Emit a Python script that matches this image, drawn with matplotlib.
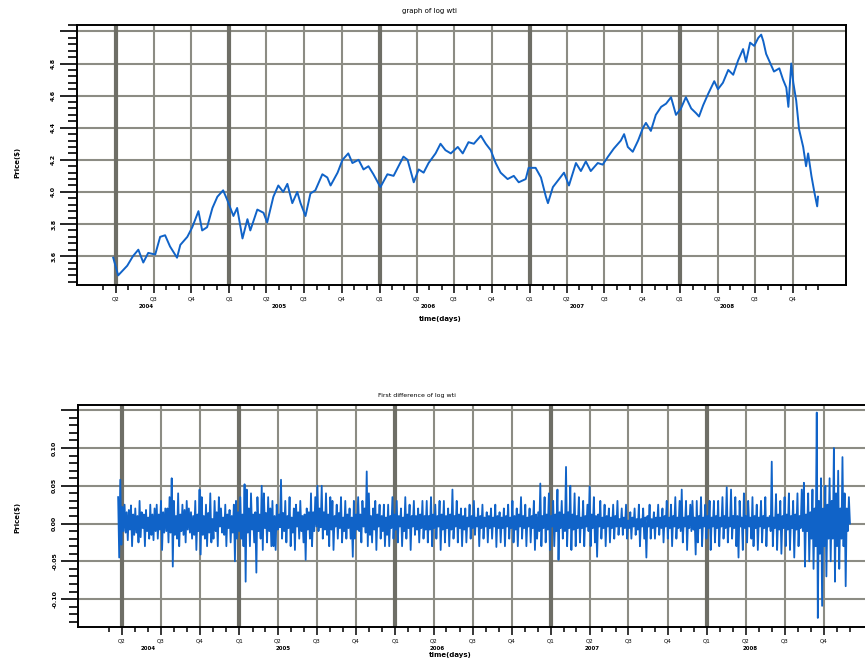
import numpy as np
import pandas as pd
import matplotlib
matplotlib.use('Agg')
import matplotlib.pyplot as plt
import matplotlib.dates as mdates
from matplotlib.ticker import MultipleLocator, FuncFormatter

# log of WTI price: days after 2004-04-01 and value
obs_day = [-7, 5, 27, 41, 54, 66, 78, 95, 107, 119, 131, 148, 156, 173, 185, 200, 209, 221, 234, 246,
           260, 270, 285, 294, 307, 319, 326, 343, 358, 367, 382, 394, 406, 416, 428, 440, 448, 460, 472, 484,
           501, 513, 521, 538, 550, 564, 574, 589, 601, 613, 625, 642, 659, 674, 698, 708, 723, 735, 747, 759,
           776, 788, 800, 813, 830, 842, 856, 869, 886, 898, 910, 922, 934, 951, 966, 978, 995, 1002, 1019, 1032,
           1044, 1049, 1061, 1073, 1088, 1100, 1117, 1129, 1141, 1153, 1170, 1182, 1195, 1209, 1226, 1234, 1243, 1255, 1268, 1280,
           1287, 1299, 1311, 1324, 1336, 1348, 1360, 1372, 1384, 1397, 1409, 1416, 1426, 1438, 1453, 1462, 1474, 1487, 1499, 1511,
           1523, 1530, 1540, 1550, 1560, 1567, 1572, 1579, 1586, 1598, 1611, 1620, 1628, 1633, 1640, 1645, 1652, 1659, 1669, 1676,
           1681, 1689, 1696, 1703, 1705]
log_wti = [3.59, 3.48, 3.54, 3.60, 3.64, 3.56, 3.62, 3.61, 3.72, 3.73, 3.66, 3.59, 3.67, 3.72, 3.78, 3.88, 3.76, 3.78, 3.90, 3.97,
           4.01, 3.95, 3.85, 3.90, 3.71, 3.83, 3.76, 3.89, 3.87, 3.81, 3.97, 4.04, 4.00, 4.05, 3.93, 4.00, 3.93, 3.85, 3.99, 4.01,
           4.11, 4.09, 4.04, 4.12, 4.20, 4.24, 4.18, 4.20, 4.14, 4.16, 4.11, 4.03, 4.11, 4.10, 4.22, 4.20, 4.06, 4.14, 4.12, 4.18,
           4.24, 4.30, 4.26, 4.24, 4.28, 4.24, 4.31, 4.30, 4.35, 4.30, 4.26, 4.18, 4.12, 4.08, 4.10, 4.06, 4.08, 4.15, 4.15, 4.09,
           3.97, 3.93, 4.03, 4.07, 4.12, 4.04, 4.18, 4.13, 4.19, 4.13, 4.18, 4.17, 4.22, 4.27, 4.32, 4.36, 4.28, 4.25, 4.32, 4.40,
           4.43, 4.38, 4.48, 4.53, 4.55, 4.59, 4.48, 4.52, 4.59, 4.52, 4.49, 4.47, 4.54, 4.61, 4.69, 4.64, 4.68, 4.76, 4.73, 4.82,
           4.89, 4.81, 4.93, 4.91, 4.96, 4.98, 4.94, 4.86, 4.82, 4.75, 4.77, 4.70, 4.65, 4.53, 4.80, 4.68, 4.57, 4.39, 4.28, 4.16,
           4.24, 4.10, 4.00, 3.91, 3.97]

# first difference of log wti, evenly spaced from 2004-03-23 to 2008-12-01 (one row per ~quarter)
diff_log_wti = [
    0.035, -0.045, 0.058, -0.028, 0.022, -0.01, 0.025, -0.012, 0.015, -0.022, 0.018, -0.008, 0.024, -0.03, 0.012, -0.015, 0.02, -0.012,
    0.01, -0.025, 0.03, -0.018, 0.015, -0.006, 0.012, -0.03, 0.018, -0.01, 0.008, -0.02, 0.025, -0.015, 0.012, -0.022, 0.02, -0.01,
    0.025, -0.02, 0.012, -0.008, 0.03, -0.035, 0.015, -0.012, 0.02, -0.01, 0.02, -0.025, 0.035, -0.012, 0.06, -0.057, 0.03, -0.015,
    0.01, -0.02, 0.04, -0.03, 0.012, -0.01, 0.025, -0.015, 0.018, -0.025, 0.03, -0.008, 0.02, -0.012, 0.015, -0.02, 0.01, -0.015,
    0.03, -0.035, 0.012, -0.01, 0.045, -0.041, 0.035, -0.015, 0.01, -0.02, 0.025, -0.03, 0.014, -0.012, 0.04, -0.025, 0.006, -0.02,
    0.03, -0.01, 0.015, -0.03, 0.035, -0.004, 0.02, -0.012, 0.008, -0.015, 0.025, -0.03, 0.012, -0.006, 0.018, -0.025, 0.01, -0.012,
    0.025, -0.05, 0.03, -0.02, 0.015, -0.01, 0.035, -0.02, 0.012, -0.03, 0.052, -0.077, 0.045, -0.012, 0.02, -0.03, 0.04, -0.008,
    0.012, -0.025, 0.015, -0.065, 0.035, -0.01, 0.012, -0.02, 0.05, -0.035, 0.04, -0.006, 0.014, -0.025, 0.035, -0.01, 0.02, -0.03,
    0.03, -0.03, 0.01, -0.035, 0.025, -0.008, 0.012, -0.005, 0.058, -0.02, 0.014, -0.01, 0.03, -0.025, 0.01, -0.006, 0.035, -0.03,
    0.008, -0.012, 0.02, -0.035, 0.025, -0.004, 0.015, -0.02, 0.03, -0.01, 0.01, -0.025, 0.012, -0.048, 0.02, -0.008, 0.015, -0.02,
    0.04, -0.03, 0.015, -0.01, 0.035, -0.004, 0.05, -0.01, 0.02, -0.005, 0.05, -0.02, 0.015, -0.008, 0.04, -0.015, 0.012, -0.03,
    0.035, -0.008, 0.03, -0.035, 0.01, -0.004, 0.025, -0.02, 0.014, -0.006, 0.035, -0.025, 0.008, -0.01, 0.03, -0.02, 0.012, -0.006,
    0.02, -0.02, 0.008, -0.044, 0.03, -0.02, 0.012, -0.008, 0.035, -0.01, 0.012, -0.025, 0.03, -0.004, 0.02, -0.012, 0.069, -0.03,
    0.04, -0.015, 0.01, -0.025, 0.02, -0.008, 0.03, -0.035, 0.012, -0.004, 0.025, -0.02, 0.01, -0.01, 0.025, -0.03, 0.008, -0.015,
    0.025, -0.03, 0.01, -0.006, 0.035, -0.02, 0.012, -0.008, 0.03, -0.025, 0.01, -0.004, 0.02, -0.03, 0.008, -0.01, 0.035, -0.02,
    0.012, -0.006, 0.025, -0.035, 0.01, -0.004, 0.03, -0.015, 0.01, -0.008, 0.02, -0.025, 0.012, -0.006, 0.03, -0.02, 0.01, -0.008,
    0.03, -0.025, 0.01, -0.008, 0.035, -0.03, 0.012, -0.006, 0.025, -0.02, 0.01, -0.004, 0.03, -0.035, 0.012, -0.008, 0.03, -0.025,
    0.01, -0.006, 0.02, -0.03, 0.012, -0.008, 0.045, -0.02, 0.01, -0.004, 0.03, -0.025, 0.012, -0.006, 0.02, -0.03, 0.01, -0.008,
    0.02, -0.025, 0.008, -0.004, 0.025, -0.02, 0.01, -0.006, 0.03, -0.015, 0.008, -0.004, 0.02, -0.03, 0.01, -0.006, 0.025, -0.02,
    0.008, -0.004, 0.015, -0.025, 0.01, -0.006, 0.02, -0.02, 0.008, -0.004, 0.025, -0.031, 0.01, -0.006, 0.015, -0.025, 0.008, -0.006,
    0.02, -0.03, 0.01, -0.004, 0.025, -0.02, 0.008, -0.006, 0.03, -0.025, 0.01, -0.008, 0.02, -0.03, 0.012, -0.004, 0.035, -0.02,
    0.01, -0.006, 0.025, -0.03, 0.008, -0.004, 0.02, -0.025, 0.01, -0.006, 0.03, -0.035, 0.012, -0.02, 0.015, -0.01, 0.053, -0.03,
    0.01, -0.006, 0.035, -0.025, 0.012, -0.008, 0.04, -0.035, 0.01, -0.004, 0.03, -0.03, 0.012, -0.01, 0.045, -0.048, 0.015, -0.006,
    0.03, -0.02, 0.012, -0.01, 0.075, -0.03, 0.015, -0.006, 0.05, -0.035, 0.012, -0.008, 0.04, -0.03, 0.01, -0.006, 0.035, -0.025,
    0.008, -0.006, 0.03, -0.03, 0.01, -0.004, 0.025, -0.01, 0.049, -0.03, 0.012, -0.006, 0.035, -0.025, 0.01, -0.044, 0.012, -0.004,
    0.03, -0.02, 0.008, -0.006, 0.025, -0.03, 0.01, -0.004, 0.02, -0.025, 0.008, -0.006, 0.025, -0.02, 0.01, -0.004, 0.03, -0.015,
    0.006, -0.004, 0.02, -0.015, 0.008, -0.006, 0.025, -0.02, 0.004, -0.006, 0.015, -0.02, 0.008, -0.004, 0.02, -0.015, 0.006, -0.008,
    0.025, -0.03, 0.006, -0.004, 0.02, -0.02, 0.008, -0.045, 0.01, -0.004, 0.025, -0.02, 0.006, -0.006, 0.015, -0.02, 0.008, -0.004,
    0.025, -0.015, 0.008, -0.006, 0.02, -0.025, 0.01, -0.004, 0.03, -0.02, 0.008, -0.006, 0.025, -0.03, 0.01, -0.004, 0.035, -0.02,
    0.008, -0.006, 0.03, -0.01, 0.045, -0.025, 0.008, -0.004, 0.03, -0.035, 0.01, -0.006, 0.025, -0.01, 0.03, -0.008, 0.008, -0.041,
    0.03, -0.025, 0.01, -0.006, 0.035, -0.03, 0.008, -0.004, 0.025, -0.02, 0.01, -0.006, 0.03, -0.035, 0.008, -0.004, 0.03, -0.025,
    0.01, -0.006, 0.03, -0.03, 0.008, -0.004, 0.035, -0.02, 0.01, -0.006, 0.048, -0.025, 0.008, -0.004, 0.045, -0.02, 0.01, -0.006,
    0.035, -0.03, 0.01, -0.045, 0.03, -0.004, 0.008, -0.035, 0.04, -0.006, 0.01, -0.025, 0.03, -0.004, 0.008, -0.02, 0.035, -0.03,
    0.01, -0.006, 0.025, -0.035, 0.008, -0.004, 0.03, -0.025, 0.01, -0.006, 0.035, -0.03, 0.008, -0.004, 0.01, -0.01, 0.082, -0.03,
    0.008, -0.006, 0.039, -0.035, 0.012, -0.008, 0.03, -0.04, 0.01, -0.006, 0.035, -0.03, 0.012, -0.008, 0.04, -0.035, 0.01, -0.006,
    0.03, -0.045, 0.012, -0.008, 0.04, -0.03, 0.01, -0.006, 0.045, -0.01, 0.054, -0.057, 0.012, -0.01, 0.04, -0.05, 0.015, -0.02,
    0.045, -0.06, 0.02, -0.03, 0.147, -0.125, 0.03, -0.04, 0.06, -0.109, 0.02, -0.03, 0.05, -0.07, 0.025, -0.02, 0.06, -0.05,
    0.03, -0.02, 0.1, -0.077, 0.04, -0.03, 0.07, -0.06, 0.02, -0.02, 0.088, -0.03, 0.04, -0.083, 0.02, -0.01, 0.035, 0.0]

quarter_names = ['Q1', 'Q2', 'Q3', 'Q4']
years = ['2004', '2005', '2006', '2007', '2008']

BLUE = '#1063c8'
GRID = '#8c8c84'
GRID_DARK = '#6e6e66'
W, H = 865, 662


def date_axis(ax, xlim, year_pos, label_y):
    ax.set_xlim(pd.Timestamp(xlim[0]), pd.Timestamp(xlim[1]))
    quarters = pd.date_range('2004-04-01', '2008-10-01', freq='QS')
    months = pd.date_range('2004-03-01', '2008-12-01', freq='MS')
    ax.set_xticks(quarters)
    ax.set_xticklabels([quarter_names[(q.month - 1) // 3] for q in quarters])
    ax.set_xticks(months, minor=True)
    ax.tick_params(axis='x', which='major', length=6, width=1.1, pad=2, labelsize=4)
    ax.tick_params(axis='x', which='minor', length=3.5, width=1.1)
    for q in quarters:
        thick = q.month == 1 or q == quarters[0]
        ax.axvline(q, color=GRID_DARK if thick else GRID, lw=3.0 if thick else 1.5, zorder=1)
    for yr, pos in zip(years, year_pos):
        ax.text(pd.Timestamp(pos), label_y, yr, transform=ax.get_xaxis_transform(),
                ha='center', va='top', fontsize=4, fontweight='bold')


def value_axis(ax, ylim, major, minor, fmt, hide):
    ax.set_ylim(*ylim)
    ax.yaxis.set_major_locator(MultipleLocator(major))
    ax.yaxis.set_minor_locator(MultipleLocator(minor))
    ax.yaxis.set_major_formatter(FuncFormatter(
        lambda v, p: '' if abs(v - hide) < 1e-9 else fmt % v))
    ax.tick_params(axis='y', which='major', length=12, width=1.2, pad=3, labelsize=4.5)
    ax.tick_params(axis='y', which='minor', length=6.5, width=1.2)
    for t in ax.get_yticklabels():
        t.set_rotation(90)
        t.set_va('center')
        t.set_fontweight('bold')
    ax.yaxis.grid(True, which='major', color=GRID, lw=1.5, zorder=1)
    ax.set_axisbelow(True)
    for s in ['left', 'bottom', 'top', 'right']:
        ax.spines[s].set_linewidth(1.4)
    ax.tick_params(top=False, right=False, direction='out')


fig = plt.figure(figsize=(W / 100, H / 100), dpi=100)

# top panel
ax1 = fig.add_axes([77 / W, 1 - 285 / H, (846 - 77) / W, (285 - 25) / H])
dates = pd.Timestamp('2004-04-01') + pd.to_timedelta(obs_day, unit='D')
ax1.plot(dates, log_wti, color=BLUE, lw=1.4, zorder=3)
value_axis(ax1, (3.42, 5.04), 0.2, 0.04, '%.1f', 5.0)
date_axis(ax1, ('2003-12-28', '2009-02-07'),
          ['2004-06-13', '2005-05-03', '2006-04-29', '2007-04-25', '2008-04-24'], -0.075)
fig.text(430 / W, 1 - 11 / H, 'graph of log wti', ha='center', va='center', fontsize=5)
fig.text(440 / W, 1 - 319 / H, 'time(days)', ha='center', va='center', fontsize=5, fontweight='bold')
fig.text(17 / W, 1 - 162 / H, 'Price($)', ha='center', va='center', rotation=90, fontsize=5, fontweight='bold')

# bottom panel (runs past the right edge of the picture)
ax2 = fig.add_axes([78 / W, 1 - 627 / H, 801 / W, (627 - 405) / H])
ddates = pd.date_range('2004-03-23', '2008-12-01', periods=len(diff_log_wti))
ax2.plot(ddates, diff_log_wti, color=BLUE, lw=1.3, zorder=3)
value_axis(ax2, (-0.137, 0.157), 0.05, 0.01, '%.2f', 0.15)
date_axis(ax2, ('2003-12-20', '2009-02-07'),
          ['2004-06-01', '2005-04-13', '2006-04-09', '2007-04-07', '2008-04-11'], -0.085)
fig.text(417 / W, 1 - 395 / H, 'First difference of log wti', ha='center', va='center', fontsize=4.5)
fig.text(450 / W, 1 - 655 / H, 'time(days)', ha='center', va='center', fontsize=5, fontweight='bold')
fig.text(17 / W, 1 - 517 / H, 'Price($)', ha='center', va='center', rotation=90, fontsize=5, fontweight='bold')

fig.savefig('out.png', dpi=100)
